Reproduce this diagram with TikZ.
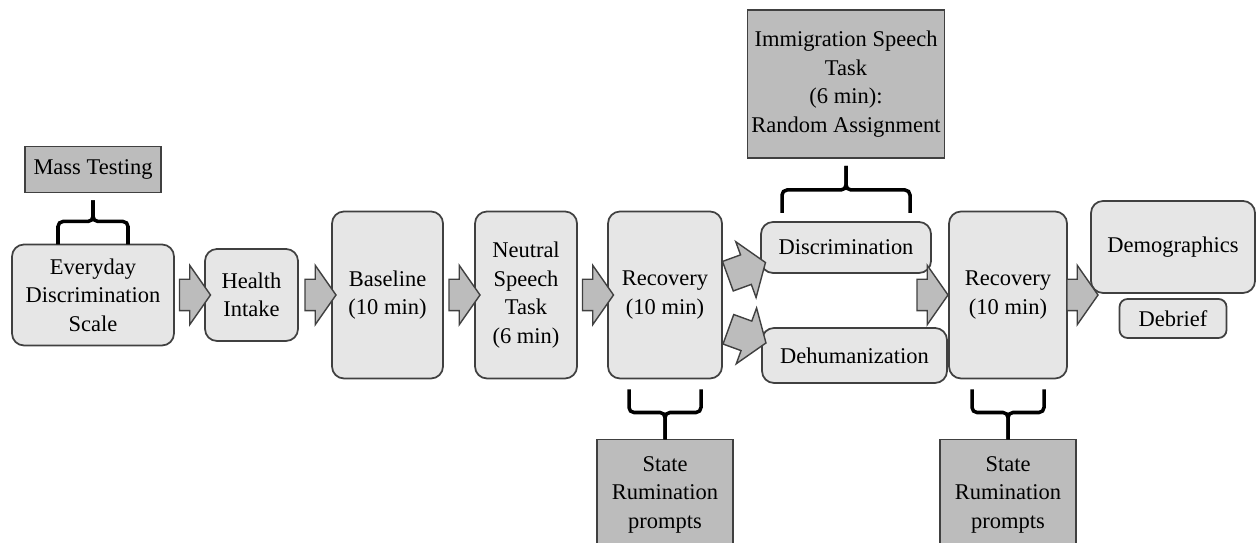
\documentclass[tikz,border=0pt]{standalone}
\usepackage{fontspec}
\setmainfont{Liberation Serif}
\usetikzlibrary{positioning, calc, shapes.arrows}
\definecolor{cajagris}{RGB}{230,230,230}
\definecolor{notagris}{RGB}{188,188,188}
\definecolor{borde}{RGB}{64,64,64}
\newlength{\px}
\setlength{\px}{0.02cm}

\begin{document}
\begin{tikzpicture}[
  x=0.02cm, y=0.02cm,
  etapa/.style={draw=borde, line width=1pt, rounded corners=12\px, fill=cajagris, outer sep=0pt,
                align=center, inner sep=0pt, font=\fontsize{12.8}{16.2}\selectfont},
  nota/.style={draw=borde, line width=1pt, fill=notagris, outer sep=0pt,
               align=center, inner sep=0pt, font=\fontsize{12.8}{16.2}\selectfont},
  flecha/.style={single arrow, draw=borde, line width=0.8pt, fill=notagris, outer sep=0pt,
                 single arrow tip angle=110, single arrow head extend=14\px,
                 inner xsep=0pt, inner ysep=15\px, minimum height=31\px},
  llave/.style={line width=2pt, rounded corners=5\px}
]
\useasboundingbox (0,-245) rectangle (1256,298);

\node[etapa, minimum width=162\px, minimum height=101\px] (evd) at (93,3) {Everyday\\Discrimination\\Scale};
\node[etapa, minimum width=93\px, minimum height=92\px, right=31\px of evd] (hlth) {Health\\Intake};
\node[etapa, minimum width=111\px, minimum height=167\px, right=34\px of hlth] (base) {Baseline\\(10 min)};
\node[etapa, minimum width=102\px, minimum height=167\px, right=32\px of base] (neut) {Neutral\\Speech\\Task\\(6 min)};
\node[etapa, minimum width=114\px, minimum height=167\px, right=31\px of neut] (rec1) {Recovery\\(10 min)};
\node[etapa, minimum width=170\px, minimum height=51\px, right=39\px of rec1, yshift=47.5\px] (disc) {Discrimination};
\node[etapa, minimum width=185\px, minimum height=55\px, right=40\px of rec1, yshift=-60.5\px] (dehu) {Dehumanization};
\node[etapa, minimum width=118\px, minimum height=167\px, right=227\px of rec1] (rec2) {Recovery\\(10 min)};
\node[etapa, minimum width=164\px, minimum height=92\px, right=24\px of rec2, yshift=48\px] (demo) {Demographics};
\node[etapa, rounded corners=8\px, minimum width=107\px, minimum height=39\px, below=6\px of demo] (debr) {Debrief};

\node[nota, minimum width=136\px, minimum height=46\px, above=52\px of evd] (mass) {Mass Testing};
\node[nota, minimum width=197\px, minimum height=148\px, above=64\px of disc] (imm) {Immigration Speech\\Task\\(6 min):\\Random Assignment};
\node[nota, minimum width=136\px, minimum height=110\px, below=61\px of rec1] (st1) {State\\Rumination\\prompts};
\node[nota, minimum width=136\px, minimum height=110\px, below=61\px of rec2] (st2) {State\\Rumination\\prompts};

% flechas de bloque
\node[flecha] (f1) at ($(evd.east)!0.5!(hlth.west)$) {};
\node[flecha] (f2) at ($(hlth.east)!0.5!(base.west)$) {};
\node[flecha] (f3) at ($(base.east)!0.5!(neut.west)$) {};
\node[flecha] (f4) at ($(neut.east)!0.5!(rec1.west)$) {};
\node[flecha, minimum height=40\px, rotate=20] (f5) at ($(rec1.east)!0.5!(disc.west)$) {};
\node[flecha, minimum height=40\px, rotate=-20] (f6) at ($([yshift=-18\px]rec1.east)!0.5!(dehu.west)$) {};
\node[flecha, left=1\px of rec2] (f7) {};
\node[flecha, right=0\px of rec2] (f8) {};

% llaves
\draw[llave] ([xshift=-35\px]evd.north) |- ([yshift=-29\px]mass.south) -- ([yshift=-8\px]mass.south);
\draw[llave] ([xshift=35\px]evd.north) |- ([yshift=-29\px]mass.south) -- ([yshift=-8\px]mass.south);
\draw[llave] ([xshift=-64\px,yshift=9\px]disc.north) |- ([yshift=-32\px]imm.south) -- ([yshift=-8\px]imm.south);
\draw[llave] ([xshift=64\px,yshift=9\px]disc.north) |- ([yshift=-32\px]imm.south) -- ([yshift=-8\px]imm.south);
\draw[llave] ([xshift=-36\px,yshift=-11\px]rec1.south) |- ([yshift=27\px]st1.north) -- (st1.north);
\draw[llave] ([xshift=36\px,yshift=-11\px]rec1.south) |- ([yshift=27\px]st1.north) -- (st1.north);
\draw[llave] ([xshift=-36\px,yshift=-11\px]rec2.south) |- ([yshift=27\px]st2.north) -- (st2.north);
\draw[llave] ([xshift=36\px,yshift=-11\px]rec2.south) |- ([yshift=27\px]st2.north) -- (st2.north);
\end{tikzpicture}
\end{document}
